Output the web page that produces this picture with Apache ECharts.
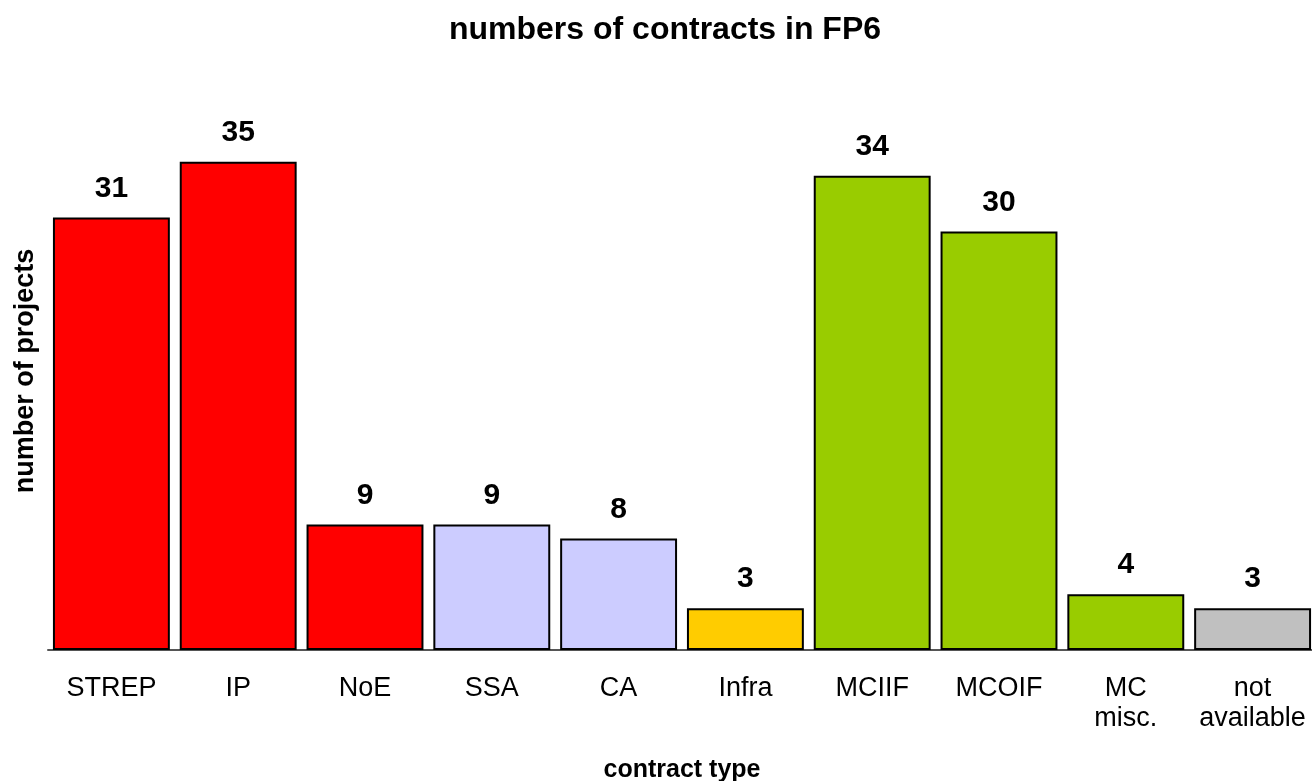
<!DOCTYPE html>
<html>
<head>
<meta charset="utf-8">
<script src="https://cdn.jsdelivr.net/npm/echarts@6/dist/echarts.min.js"></script>
<style>html,body{margin:0;padding:0;background:#fff}#c{width:1312px;height:781px}</style>
</head>
<body>
<div id="c"></div>
<script>
const categories = ['STREP', 'IP', 'NoE', 'SSA', 'CA', 'Infra', 'MCIIF', 'MCOIF', 'MC\nmisc.', 'not\navailable'];
const values = [31, 35, 9, 9, 8, 3, 34, 30, 4, 3];
const barColors = ['#FF0000', '#FF0000', '#FF0000', '#CCCCFF', '#CCCCFF', '#FFCC00', '#99CC00', '#99CC00', '#99CC00', '#C0C0C0'];
const titleText = 'numbers of contracts in FP6';
const xName = 'contract type';
const yName = 'number of projects';

const FONT = 'Liberation Sans, Arial, sans-serif';
const chart = echarts.init(document.getElementById('c'), null, {renderer: 'canvas'});
chart.setOption({
  animation: false,
  backgroundColor: '#fff',
  title: {
    text: titleText,
    left: 660,
    textAlign: 'center',
    top: 9,
    textStyle: {fontFamily: FONT, fontSize: 32, fontWeight: 'bold', color: '#000'}
  },
  grid: {left: 48, right: -4, top: 92, bottom: 131, containLabel: false, outerBoundsMode: 'none'},
  xAxis: {
    type: 'category',
    data: categories,
    name: xName,
    nameLocation: 'middle',
    nameGap: 108,
    nameTextStyle: {fontFamily: FONT, fontSize: 25, fontWeight: 'bold', color: '#000'},
    axisLine: {show: true, lineStyle: {color: '#555', width: 2}},
    axisTick: {show: false},
    axisLabel: {fontFamily: FONT, fontSize: 27, color: '#000', margin: 24, lineHeight: 30, interval: 0}
  },
  yAxis: {
    type: 'value',
    min: 0,
    max: 40,
    name: yName,
    nameLocation: 'middle',
    nameGap: 9,
    nameRotate: 90,
    nameTextStyle: {fontFamily: FONT, fontSize: 27, fontWeight: 'bold', color: '#000'},
    axisLine: {show: false},
    axisTick: {show: false},
    axisLabel: {show: false},
    splitLine: {show: false}
  },
  series: [{
    type: 'bar',
    data: values.map((v, i) => ({value: v, itemStyle: {color: barColors[i]}})),
    barCategoryGap: '7.8%',
    itemStyle: {borderColor: '#000', borderWidth: 2},
    label: {
      show: true,
      position: 'top',
      distance: 14,
      fontFamily: FONT,
      fontSize: 30,
      fontWeight: 'bold',
      color: '#000'
    }
  }]
});
</script>
</body>
</html>
